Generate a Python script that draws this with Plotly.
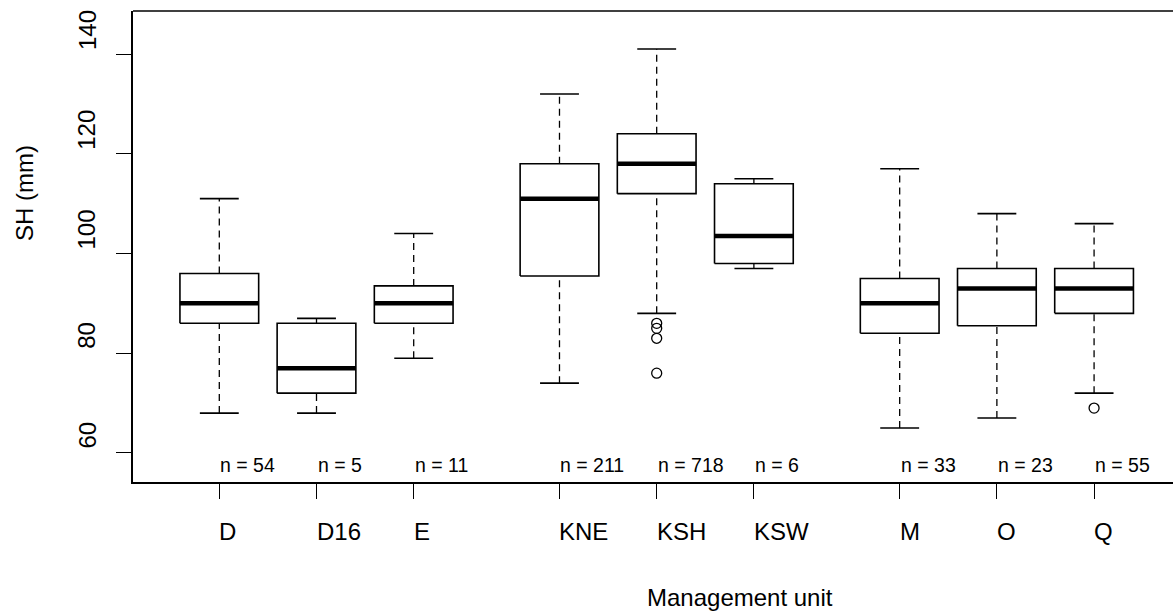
import plotly.graph_objects as go

# Shell height (mm) summary per management unit
units = ["D", "D16", "E", "KNE", "KSH", "KSW", "M", "O", "Q"]
lower_whisker = [68, 68, 79, 74, 88, 97, 65, 67, 72]
q1 = [86, 72, 86, 95.5, 112, 98, 84, 85.5, 88]
median = [90, 77, 90, 111, 118, 103.5, 90, 93, 93]
q3 = [96, 86, 93.5, 118, 124, 114, 95, 97, 97]
upper_whisker = [111, 87, 104, 132, 141, 115, 117, 108, 106]
outlier_units = ["KSH", "KSH", "KSH", "KSH", "Q"]
outlier_values = [86, 85, 83, 76, 69]
n_obs = [54, 5, 11, 211, 718, 6, 33, 23, 55]
y_ticks = [60, 80, 100, 120, 140]

# units are drawn in three clusters of three, with a half-slot gap between clusters
group_size = 3
pos = [i + 1 + 0.5 * (i // group_size) for i in range(len(units))]
pos_of = dict(zip(units, pos))

HALF_BOX = 0.405
HALF_CAP = 0.2
FONT = "Liberation Sans, Arial, sans-serif"
W, H = 1173, 614
PLOT_L, PLOT_R, PLOT_T, PLOT_B = 133, 1173, 11, 482


def px_x(p):
    return (p - PLOT_L) / (PLOT_R - PLOT_L)


def px_y(p):
    return (PLOT_B - p) / (PLOT_B - PLOT_T)


box_x, box_y = [], []
med_x, med_y = [], []
wh_x, wh_y = [], []
cap_x, cap_y = [], []
for x, lo, a, m, b, hi in zip(pos, lower_whisker, q1, median, q3, upper_whisker):
    box_x += [x - HALF_BOX, x + HALF_BOX, x + HALF_BOX, x - HALF_BOX, x - HALF_BOX, None]
    box_y += [a, a, b, b, a, None]
    med_x += [x - HALF_BOX, x + HALF_BOX, None]
    med_y += [m, m, None]
    wh_x += [x, x, None, x, x, None]
    wh_y += [lo, a, None, b, hi, None]
    cap_x += [x - HALF_CAP, x + HALF_CAP, None, x - HALF_CAP, x + HALF_CAP, None]
    cap_y += [lo, lo, None, hi, hi, None]

fig = go.Figure()
fig.add_trace(go.Scatter(x=wh_x, y=wh_y, mode="lines",
                         line=dict(color="black", width=1.3, dash="7px,5px"),
                         hoverinfo="skip", showlegend=False))
fig.add_trace(go.Scatter(x=cap_x, y=cap_y, mode="lines",
                         line=dict(color="black", width=1.6),
                         hoverinfo="skip", showlegend=False))
fig.add_trace(go.Scatter(x=box_x, y=box_y, mode="lines",
                         line=dict(color="black", width=1.6),
                         hoverinfo="skip", showlegend=False))
fig.add_trace(go.Scatter(x=med_x, y=med_y, mode="lines",
                         line=dict(color="black", width=4.5),
                         hoverinfo="skip", showlegend=False))
fig.add_trace(go.Scatter(x=[pos_of[u] for u in outlier_units], y=outlier_values,
                         mode="markers",
                         marker=dict(symbol="circle-open", size=10, color="black",
                                     line=dict(width=1.3)),
                         hoverinfo="skip", showlegend=False))

# sample size under each box, starting at the box centre
for x, n in zip(pos, n_obs):
    fig.add_annotation(x=x, y=57.5, xref="x", yref="y", text=f"n = {n}",
                       showarrow=False, xanchor="left", yanchor="middle",
                       xshift=-1, font=dict(family=FONT, size=19.5, color="black"))

# category labels, left-aligned at their ticks
for x, u in zip(pos, units):
    fig.add_annotation(x=x, y=px_y(531), xref="x", yref="paper", text=u,
                       showarrow=False, xanchor="left", yanchor="middle",
                       xshift=-2, font=dict(family=FONT, size=24, color="black"))

# y tick labels, rotated and starting at their ticks
for t in y_ticks:
    fig.add_annotation(x=px_x(87), y=t, xref="paper", yref="y", text=str(t),
                       showarrow=False, textangle=-90, xanchor="center",
                       yanchor="bottom", yshift=2,
                       font=dict(family=FONT, size=24, color="black"))

# axis titles
fig.add_annotation(x=px_x(740), y=px_y(597), xref="paper", yref="paper",
                   text="Management unit", showarrow=False,
                   xanchor="center", yanchor="middle",
                   font=dict(family=FONT, size=24, color="black"))
fig.add_annotation(x=px_x(24), y=px_y(193), xref="paper", yref="paper",
                   text="SH (mm)", showarrow=False, textangle=-90,
                   xanchor="center", yanchor="middle",
                   font=dict(family=FONT, size=24, color="black"))

# top frame line
fig.add_shape(type="line", xref="paper", yref="paper", x0=0, x1=1, y0=1, y1=1,
              line=dict(color="black", width=1.5))

fig.update_layout(
    width=W, height=H,
    margin=dict(l=PLOT_L, r=W - PLOT_R, t=PLOT_T, b=H - PLOT_B),
    paper_bgcolor="white", plot_bgcolor="white",
    showlegend=False,
    xaxis=dict(range=[0.1121, 10.812], tickvals=pos, showticklabels=False,
               showgrid=False, zeroline=False, showline=True, linecolor="black",
               linewidth=1.5, ticks="outside", ticklen=15, tickwidth=1.3,
               tickcolor="black"),
    yaxis=dict(range=[54.18, 148.63], tickvals=y_ticks, showticklabels=False,
               showgrid=False, zeroline=False, showline=True, linecolor="black",
               linewidth=1.5, ticks="outside", ticklen=15, tickwidth=1.3,
               tickcolor="black"),
)

fig.write_html("out.html")
